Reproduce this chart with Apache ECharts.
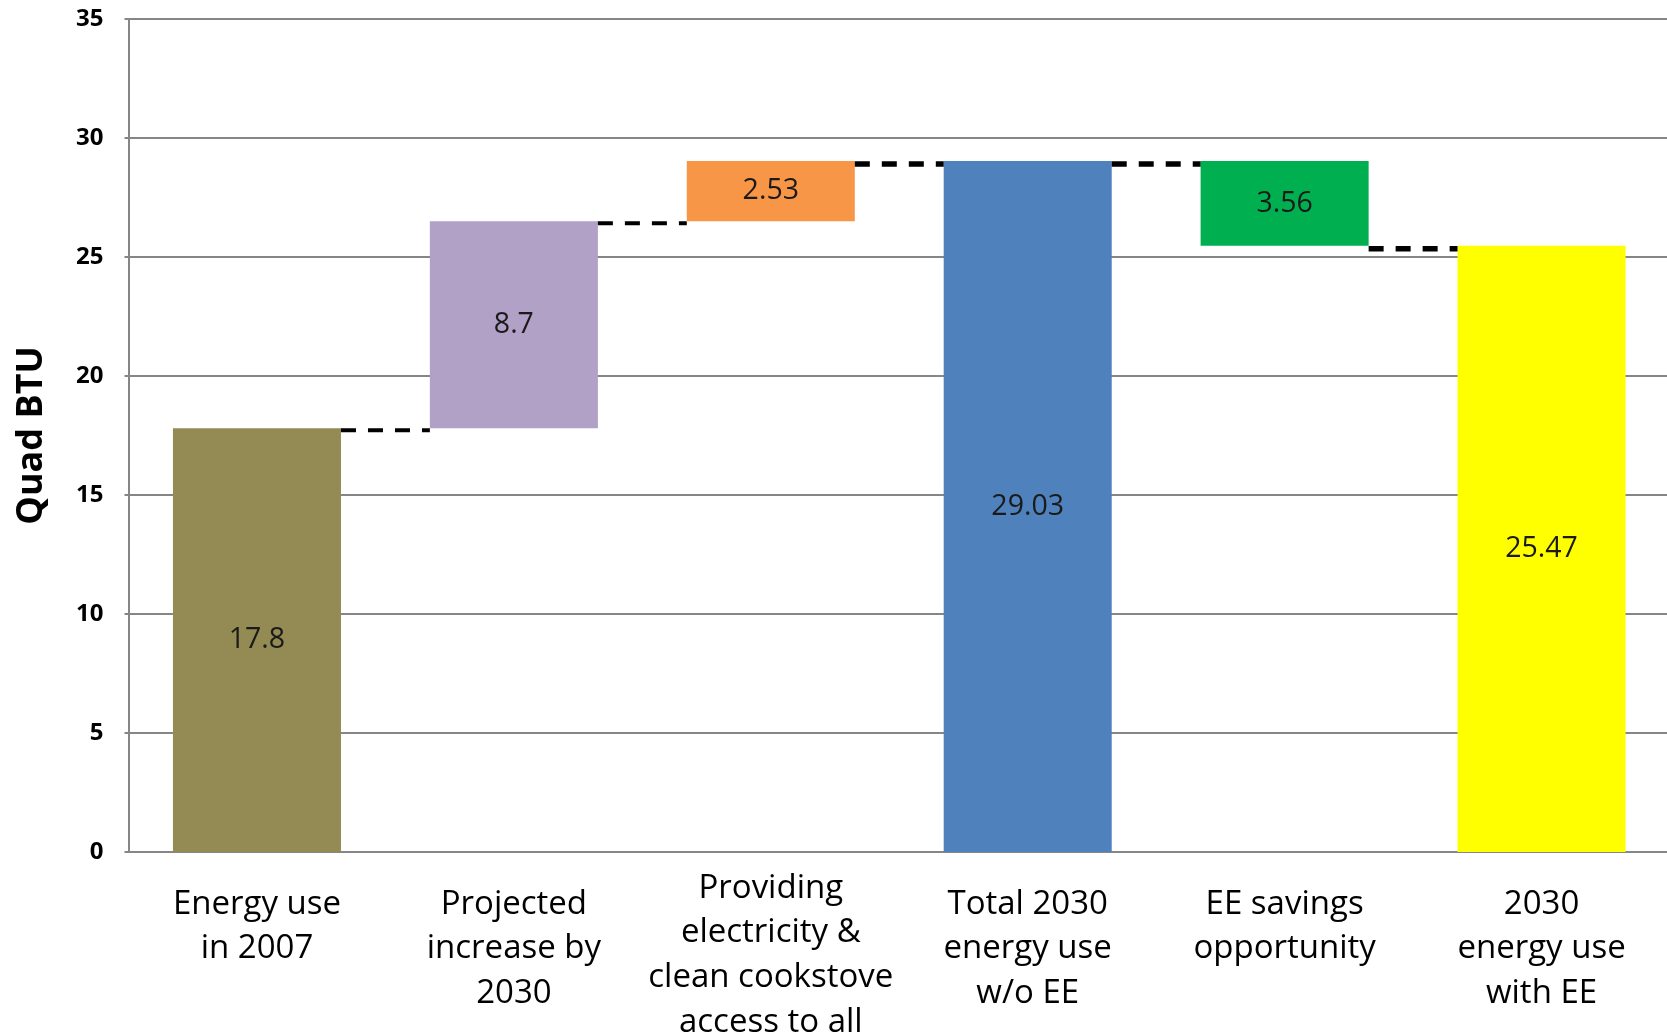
<!DOCTYPE html>
<html>
<head>
<meta charset="utf-8">
<script src="https://cdn.jsdelivr.net/npm/echarts@6/dist/echarts.min.js"></script>
<style>
html,body{margin:0;padding:0;background:#fff;overflow:hidden;}
#chart{width:1667px;height:1036px;}
</style>
</head>
<body>
<div id="chart"></div>
<script>
const categories = [
  'Energy use\nin 2007',
  'Projected\nincrease by\n2030',
  'Providing\nelectricity &\nclean cookstove\naccess to all',
  'Total 2030\nenergy use\nw/o EE',
  'EE savings\nopportunity',
  '2030\nenergy use\nwith EE'
];
const baseValues = [0, 17.8, 26.5, 0, 25.47, 0];
const barValues = [17.8, 8.7, 2.53, 29.03, 3.56, 25.47];
const barKinds = ['total', 'increase', 'increase', 'total', 'decrease', 'total'];
const barColors = ['#948A54', '#B2A1C7', '#F79646', '#4F81BD', '#00B050', '#FFFF00'];
const yTicks = [0, 5, 10, 15, 20, 25, 30, 35];

const FONT = 'Open Sans';
const BAR_FRACTION = 0.654;

// level where each step ends (connector height to the next bar)
const connectorData = [];
for (let i = 0; i < barValues.length - 1; i++) {
  const end = barKinds[i] === 'decrease' ? baseValues[i] : baseValues[i] + barValues[i];
  connectorData.push([i, end]);
}

const chart = echarts.init(document.getElementById('chart'));
chart.setOption({
  animation: false,
  backgroundColor: '#fff',
  grid: { left: 128.5, right: -3, top: 19, bottom: 184, containLabel: false, outerBoundsMode: 'none' },
  xAxis: {
    type: 'category',
    data: categories.map((c, i) => i === 2 ? { value: c, textStyle: { padding: [-16, 0, 0, 0] } } : c),
    axisLine: { show: true, lineStyle: { color: '#868686', width: 2 } },
    axisTick: { show: false },
    axisLabel: {
      interval: 0,
      color: '#000',
      fontFamily: FONT,
      fontSize: 33,
      lineHeight: 44.6,
      margin: 30,
      align: 'center',
      verticalAlign: 'top'
    },
    splitLine: { show: false }
  },
  yAxis: {
    type: 'value',
    min: yTicks[0],
    max: yTicks[yTicks.length - 1],
    interval: 5,
    name: 'Quad BTU',
    nameLocation: 'middle',
    nameGap: 79,
    nameTextStyle: { fontFamily: FONT, fontWeight: 'bold', fontSize: 36, color: '#000' },
    axisLine: { show: true, lineStyle: { color: '#868686', width: 2 } },
    axisTick: { show: true, length: 4, lineStyle: { color: '#868686', width: 2 } },
    axisLabel: { color: '#000', fontFamily: FONT, fontWeight: 'bold', fontSize: 24, margin: 25 },
    splitLine: { show: true, lineStyle: { color: '#868686', width: 2 } }
  },
  series: [
    {
      type: 'bar',
      stack: 'w',
      silent: true,
      barCategoryGap: ((1 - BAR_FRACTION) * 100).toFixed(1) + '%',
      itemStyle: { color: 'transparent' },
      data: baseValues
    },
    {
      type: 'bar',
      stack: 'w',
      barCategoryGap: ((1 - BAR_FRACTION) * 100).toFixed(1) + '%',
      data: barValues.map((v, i) => ({ value: v, itemStyle: { color: barColors[i] } })),
      label: {
        show: true,
        position: 'inside',
        color: '#1a1a1a',
        fontFamily: FONT,
        fontSize: 28.5,
        formatter: p => String(p.value)
      }
    },
    {
      type: 'custom',
      z: 5,
      data: connectorData,
      renderItem: function (params, api) {
        const idx = api.value(0);
        const level = api.value(1);
        const p1 = api.coord([idx, level]);
        const p2 = api.coord([idx + 1, level]);
        const bw = api.size([1, 0])[0] * BAR_FRACTION;
        const thick = idx >= 2;
        const y = p1[1] + (thick ? 3 : 2);
        return {
          type: 'line',
          shape: { x1: p1[0] + bw / 2, y1: y, x2: p2[0] - bw / 2, y2: y },
          style: { stroke: '#000', lineWidth: thick ? 5.5 : 4, lineDash: [15, 12] }
        };
      }
    }
  ]
});
</script>
</body>
</html>
